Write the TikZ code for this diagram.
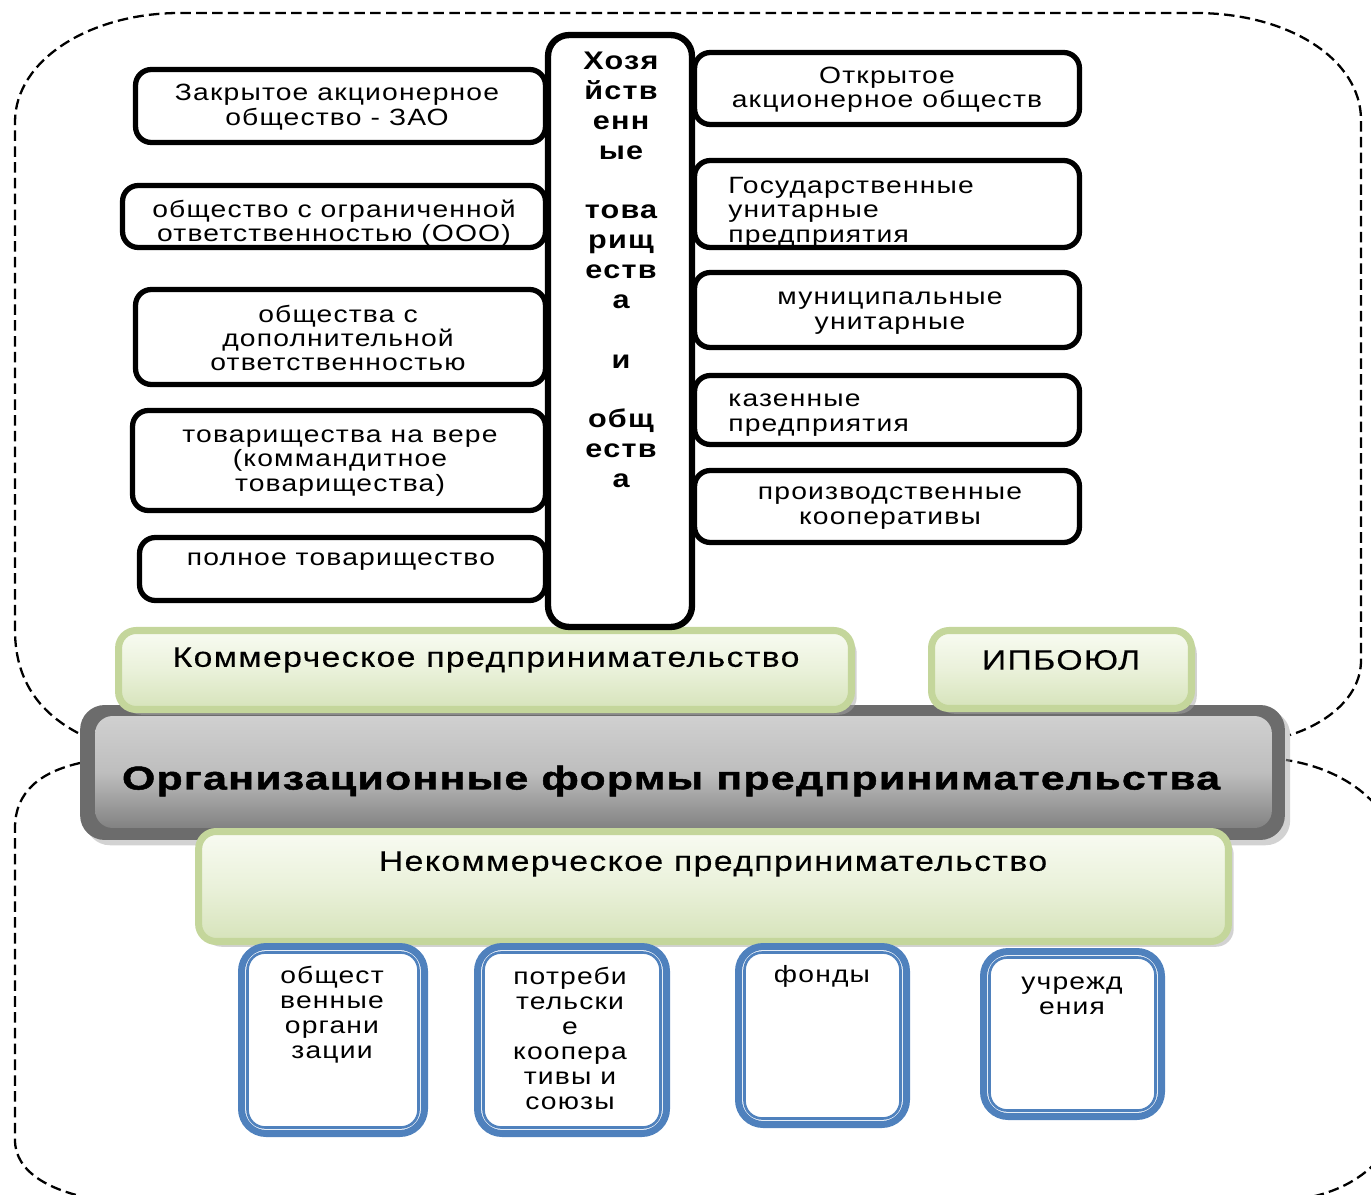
\documentclass[tikz,border=0pt]{standalone}
\usepackage{fontspec}
\setmainfont{Liberation Sans}
\newfontfamily\rf[FakeStretch=1.2,LetterSpace=5]{Liberation Sans}
\newfontfamily\gf[FakeStretch=1.2,LetterSpace=5,FakeBold=0.3]{Liberation Sans}
\newfontfamily\hf[FakeStretch=1.3,LetterSpace=4,BoldFeatures={FakeBold=1.5}]{Liberation Sans}
\usetikzlibrary{shadows}
\definecolor{blueC}{RGB}{79,129,189}
\definecolor{grnB}{RGB}{196,214,155}
\definecolor{grnT}{RGB}{248,251,242}
\definecolor{grnM}{RGB}{234,241,218}
\definecolor{grnL}{RGB}{214,227,186}
\definecolor{gryO}{RGB}{108,108,108}
\definecolor{gryT}{RGB}{208,208,208}
\definecolor{gryM}{RGB}{190,190,190}
\definecolor{gryB}{RGB}{130,130,130}
\tikzset{
 bodytext/.style={font=\rf\fontsize{13.4}{13.9}\selectfont, align=center, inner sep=0pt},
 bluetext/.style={font=\rf\fontsize{13.4}{14.2}\selectfont, align=center, inner sep=0pt},
 blk/.style={draw=black, line width=3pt, rounded corners=9pt, fill=white, inner sep=0pt},
 colbox/.style={draw=black, line width=3.6pt, rounded corners=12pt, fill=white, inner sep=0pt},
 coltext/.style={font=\rf\bfseries\fontsize{14.5}{17}\selectfont, align=center, inner sep=0pt},
 grn/.style={draw=grnB, line width=4pt, rounded corners=10pt, top color=grnT, bottom color=grnL, middle color=grnM, inner sep=0pt, drop shadow={shadow xshift=3pt, shadow yshift=-3pt, fill=black!35, opacity=0.5}},
 grntext/.style={font=\gf\fontsize{16}{18}\selectfont, inner sep=0pt},
 grayout/.style={fill=gryO, rounded corners=14pt, inner sep=0pt, drop shadow={shadow xshift=3pt, shadow yshift=-3pt, fill=black!35, opacity=0.5}},
 grayin/.style={top color=gryT, bottom color=gryB, middle color=gryM, rounded corners=10pt, inner sep=0pt},
 titletext/.style={font=\hf\bfseries\fontsize{18.7}{20}\selectfont, inner sep=0pt},
 bbox/.style={draw=blueC, line width=4pt, rounded corners=14pt, fill=white, inner sep=0pt},
 bboxin/.style={draw=blueC, line width=1.5pt, rounded corners=10pt, inner sep=0pt},
 region/.style={draw=black, line width=1.3pt, dash pattern=on 6pt off 3pt},
}
\begin{document}
\begin{tikzpicture}[x=0.02cm,y=-0.02cm]
\useasboundingbox (0,0) rectangle (1371,1195);
\begin{scope}
\clip (0,0) rectangle (1371,1195);
\draw[region] (78,733) .. controls (50,718) and (15,690) .. (15,630) -- (15,122) .. controls (15,60) and (90,13) .. (180,13) -- (1195,13) .. controls (1290,13) and (1361,60) .. (1361,120) -- (1361,660) .. controls (1361,700) and (1322,725) .. (1290,735);
\draw[region] (80,763) .. controls (40,772) and (15,792) .. (15,828) -- (15,1140) .. controls (15,1172) and (50,1192) .. (100,1200) -- (1290,1200) .. controls (1350,1195) and (1395,1160) .. (1400,1110) -- (1400,870) .. controls (1400,810) and (1350,770) .. (1286,760);
\end{scope}
% central bar
\node[grayout, minimum width=24.1cm, minimum height=2.7cm] (gbar) at (682.5,772.5) {};
\node[grayin, minimum width=23.54cm, minimum height=2.24cm] (gin) at (683.5,772) {};
\node[titletext] (title) at (671,781) {Организационные формы предпринимательства};
% green boxes
\node[grn, minimum width=14.66cm, minimum height=1.58cm] (g1) at (485,670) {};
\node[grntext] (g1t) at (486,660) {Коммерческое предпринимательство};
\node[grn, minimum width=5.2cm, minimum height=1.56cm] (g2) at (1061.5,669.5) {};
\node[grntext] (g2t) at (1061,660) {ИПБОЮЛ};
\node[grn, minimum width=20.6cm, minimum height=2.2cm] (g3) at (713.5,886.5) {};
\node[grntext] (g3t) at (713,864) {Некоммерческое предпринимательство};
% left boxes
\node[blk, minimum width=8.2cm, minimum height=1.46cm] (l1) at (340.5,106) {};
\node[bodytext] (l1t) at (337,107) {Закрытое акционерное\\общество - ЗАО};
\node[blk, minimum width=8.46cm, minimum height=1.24cm] (l2) at (334,216.5) {};
\node[bodytext] (l2t) at (334,223) {общество с ограниченной\\ответственностью (ООО)};
\node[blk, minimum width=8.2cm, minimum height=1.9cm] (l3) at (340.5,337) {};
\node[bodytext] (l3t) at (338,338) {общества с\\дополнительной\\ответственностью};
\node[blk, minimum width=8.26cm, minimum height=2.0cm] (l4) at (339,460.5) {};
\node[bodytext] (l4t) at (340,463) {товарищества на вере\\(коммандитное\\товарищества)};
\node[blk, minimum width=8.12cm, minimum height=1.26cm] (l5) at (342.5,569) {};
\node[bodytext] (l5t) at (341,562) {полное товарищество};
% right boxes
\node[blk, minimum width=7.7cm, minimum height=1.44cm] (r1) at (887,88.5) {};
\node[bodytext] (r1t) at (887,90) {Открытое\\акционерное обществ};
\node[blk, minimum width=7.7cm, minimum height=1.74cm] (r2) at (887,204) {};
\node[bodytext, anchor=west, align=left] (r2t) at (728,212) {Государственные\\унитарные\\предприятия};
\node[blk, minimum width=7.7cm, minimum height=1.5cm] (r3) at (887,310) {};
\node[bodytext] (r3t) at (890,313) {муниципальные\\унитарные};
\node[blk, minimum width=7.7cm, minimum height=1.38cm] (r4) at (887,410) {};
\node[bodytext, anchor=west, align=left] (r4t) at (728,415) {казенные\\предприятия};
\node[blk, minimum width=7.7cm, minimum height=1.44cm] (r5) at (887,506.5) {};
\node[bodytext] (r5t) at (890,508) {производственные\\кооперативы};
% column
\node[colbox, minimum width=2.88cm, minimum height=11.84cm] (col) at (620,331) {};
\node[coltext] (colt) at (621,270) {Хозя\\йств\\енн\\ые\\\mbox{}\\това\\рищ\\еств\\а\\\mbox{}\\и\\\mbox{}\\общ\\еств\\а};
% blue boxes
\node[bbox, minimum width=3.66cm, minimum height=3.74cm] (b1) at (333,1040) {};
\node[bboxin, minimum width=3.42cm, minimum height=3.5cm] (b1i) at (333,1040) {};
\node[bluetext] (b1t) at (332,1015) {общест\\венные\\органи\\зации};
\node[bbox, minimum width=3.78cm, minimum height=3.74cm] (b2) at (572,1040) {};
\node[bboxin, minimum width=3.54cm, minimum height=3.5cm] (b2i) at (572,1040) {};
\node[bluetext] (b2t) at (570,1038.5) {потреби\\тельски\\е\\коопера\\тивы и\\союзы};
\node[bbox, minimum width=3.36cm, minimum height=3.56cm] (b3) at (822.5,1035.5) {};
\node[bboxin, minimum width=3.12cm, minimum height=3.32cm] (b3i) at (822.5,1035.5) {};
\node[bluetext] (b3t) at (822,976) {фонды};
\node[bbox, minimum width=3.56cm, minimum height=3.3cm] (b4) at (1072.5,1034) {};
\node[bboxin, minimum width=3.32cm, minimum height=3.06cm] (b4i) at (1072.5,1034) {};
\node[bluetext] (b4t) at (1072,995.5) {учрежд\\ения};
\end{tikzpicture}
\end{document}
